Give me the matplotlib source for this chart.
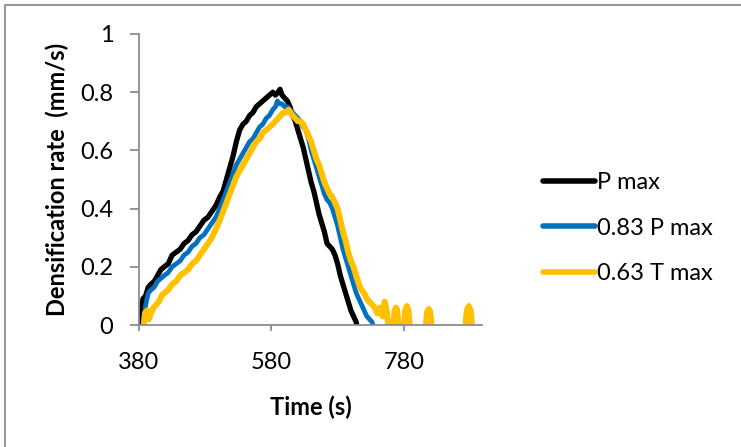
import numpy as np
import matplotlib.pyplot as plt
from matplotlib.patches import Rectangle

# time (s) / densification rate (mm/s)
P_MAX_T = [381, 383, 386, 390, 394, 398, 403, 408, 413, 418, 424, 430, 436, 442,
           448, 454, 460, 466, 472, 478, 484, 490, 496, 502, 507, 512, 517, 522,
           527, 532, 537, 542, 547, 552, 557, 562, 567, 572, 577, 582, 586, 590,
           593, 596, 600, 604, 608, 612, 616, 620, 624, 628, 632, 636, 640, 644,
           648, 652, 656, 660, 664, 668, 672, 676, 680, 684, 688, 692, 696, 700,
           704, 708, 711]
P_MAX_V = [0.0, 0.05, 0.09, 0.10, 0.13, 0.14, 0.15, 0.17, 0.19, 0.20, 0.21, 0.24,
           0.25, 0.26, 0.28, 0.29, 0.31, 0.32, 0.34, 0.36, 0.37, 0.39, 0.41, 0.44,
           0.46, 0.50, 0.54, 0.58, 0.63, 0.67, 0.69, 0.70, 0.72, 0.73, 0.75, 0.76,
           0.77, 0.78, 0.79, 0.80, 0.79, 0.80, 0.81, 0.79, 0.78, 0.77, 0.75, 0.72,
           0.70, 0.67, 0.64, 0.61, 0.57, 0.53, 0.49, 0.46, 0.42, 0.38, 0.35, 0.32,
           0.28, 0.27, 0.26, 0.24, 0.21, 0.17, 0.14, 0.11, 0.08, 0.05, 0.03, 0.01,
           -0.03]

P083_T = [386, 388, 391, 394, 398, 403, 408, 413, 418, 424, 430, 436, 442, 448,
          454, 460, 466, 472, 478, 484, 490, 496, 502, 507, 512, 517, 522, 527,
          532, 537, 542, 547, 552, 557, 562, 567, 572, 577, 582, 586, 589, 592,
          596, 600, 604, 608, 612, 616, 620, 624, 628, 632, 636, 640, 644, 648,
          652, 656, 660, 664, 668, 672, 676, 680, 684, 688, 692, 696, 700, 704,
          708, 712, 716, 720, 724, 728, 732, 737]
P083_V = [-0.02, 0.04, 0.08, 0.11, 0.12, 0.13, 0.15, 0.16, 0.17, 0.18, 0.20, 0.21,
          0.22, 0.24, 0.25, 0.27, 0.28, 0.30, 0.31, 0.33, 0.35, 0.37, 0.40, 0.43,
          0.46, 0.49, 0.52, 0.55, 0.57, 0.59, 0.61, 0.63, 0.64, 0.66, 0.68, 0.69,
          0.71, 0.72, 0.74, 0.75, 0.77, 0.76, 0.76, 0.75, 0.75, 0.74, 0.73, 0.72,
          0.71, 0.70, 0.68, 0.67, 0.64, 0.60, 0.57, 0.54, 0.51, 0.48, 0.45, 0.43,
          0.42, 0.40, 0.37, 0.34, 0.30, 0.26, 0.23, 0.20, 0.17, 0.14, 0.11, 0.09,
          0.07, 0.05, 0.03, 0.02, 0.01, -0.03]

T063_T = [386, 389, 392, 395, 398, 402, 406, 410, 414, 418, 424, 430, 436, 442,
          448, 454, 460, 466, 472, 478, 484, 490, 496, 502, 507, 512, 517, 522,
          527, 532, 537, 542, 547, 552, 557, 562, 567, 572, 577, 582, 586, 590,
          594, 598, 602, 606, 609, 612, 616, 620, 624, 628, 632, 636, 640, 644,
          648, 652, 656, 660, 664, 668, 672, 676, 680, 684, 688, 692, 696, 700,
          704, 708, 712, 716, 720, 724, 728, 732, 736, 740, 744, 748, 751, 754,
          758, 763, 766, 768, 770, 773, 779, 782, 784.5, 787, 790, 812, 815,
          817.5, 820, 823, 872, 875, 878, 881, 884]
T063_V = [-0.03, 0.04, 0.05, 0.02, 0.04, 0.06, 0.07, 0.08, 0.10, 0.11, 0.12, 0.14,
          0.15, 0.17, 0.18, 0.19, 0.21, 0.22, 0.24, 0.26, 0.28, 0.30, 0.33, 0.36,
          0.39, 0.42, 0.45, 0.48, 0.51, 0.53, 0.55, 0.57, 0.59, 0.61, 0.63, 0.64,
          0.66, 0.67, 0.68, 0.69, 0.70, 0.71, 0.72, 0.73, 0.73, 0.74, 0.73, 0.72,
          0.71, 0.70, 0.70, 0.69, 0.67, 0.65, 0.63, 0.60, 0.57, 0.55, 0.52, 0.49,
          0.47, 0.45, 0.44, 0.42, 0.40, 0.36, 0.32, 0.29, 0.25, 0.22, 0.20, 0.17,
          0.14, 0.12, 0.11, 0.09, 0.08, 0.07, 0.06, 0.04, 0.06, 0.03, 0.08, 0.05,
          -0.03, -0.03, 0.05, 0.06, 0.05, -0.03, -0.03, 0.05, 0.065, 0.05, -0.03,
          -0.03, 0.045, 0.055, 0.045, -0.03, -0.03, 0.05, 0.065, 0.05, -0.03]

SERIES = ["P max", "0.83 P max", "0.63 T max"]
COLORS = ["#000000", "#0070C0", "#FFC000"]
XTICKS = [380, 580, 780]
YTICKS = [0, 0.2, 0.4, 0.6, 0.8, 1]
YTICK_LABELS = ["0", "0.2", "0.4", "0.6", "0.8", "1"]

plt.rcParams["font.family"] = ["Lato", "DejaVu Sans"]
FS = 17

fig = plt.figure(figsize=(7.41, 4.47), dpi=100)
ax = fig.add_axes([139 / 741, 1 - 325 / 447, 343 / 741, 291 / 447])

# outer chart border (only left/top visible in the crop)
fig.patches.append(Rectangle((5 / 741, -0.1), 1.2, 1 - 5 / 447 + 0.1,
                             transform=fig.transFigure, fill=False,
                             edgecolor="#8c8c8c", linewidth=1.3))

widths = [3.8, 3.4, 4.3]
for t, v, name, c, lw in zip([P_MAX_T, P083_T, T063_T], [P_MAX_V, P083_V, T063_V],
                             SERIES, COLORS, widths):
    ax.plot(t, v, color=c, linewidth=lw, label=name, solid_joinstyle="round",
            solid_capstyle="round")

ax.set_xlim(380, 898)
ax.set_ylim(0, 1)
ax.set_xticks(XTICKS)
ax.set_yticks(YTICKS)
ax.set_yticklabels(YTICK_LABELS)

for side in ["top", "right"]:
    ax.spines[side].set_visible(False)
for side in ["left", "bottom"]:
    ax.spines[side].set_color("#8c8c8c")
    ax.spines[side].set_linewidth(1.3)
ax.tick_params(axis="both", colors="#8c8c8c", width=1.3,
               labelcolor="black", labelsize=FS, direction="out")
ax.tick_params(axis="x", length=4.5, pad=15)
ax.tick_params(axis="y", length=6.5, pad=12)

ax.set_ylabel("Densification rate  (mm/s)", fontsize=FS, fontweight="bold",
              labelpad=8)
ax.set_xlabel("Time (s)", fontsize=FS, fontweight="bold", labelpad=16)

leg = ax.legend(loc="center left", bbox_to_anchor=(1.178, 0.333), frameon=False,
                fontsize=FS, handlelength=2.2, handletextpad=0.08,
                labelspacing=1.05, borderaxespad=0, borderpad=0)
for line in leg.get_lines():
    line.set_linewidth(4)

fig.savefig("out.png", dpi=100, facecolor="white")
